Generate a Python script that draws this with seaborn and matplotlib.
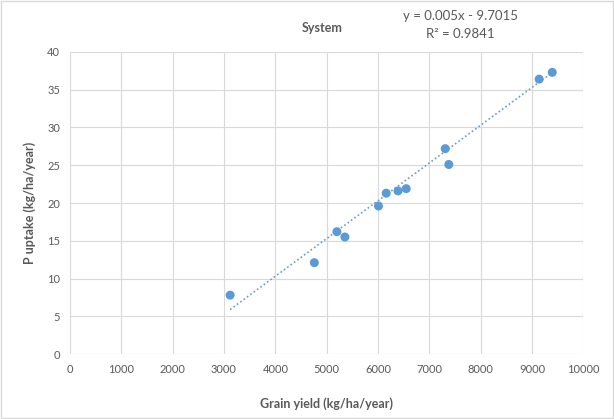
import numpy as np
import pandas as pd
import matplotlib.pyplot as plt
import seaborn as sns

# data
grain_yield = [3120, 4760, 5200, 5355, 6010, 6160, 6390, 6550, 7310, 7380, 9140, 9395]
p_uptake = [7.8, 12.1, 16.2, 15.5, 19.6, 21.3, 21.6, 21.9, 27.2, 25.1, 36.4, 37.3]
slope, intercept = 0.005, -9.7015
r2 = 0.9841

df = pd.DataFrame({"Grain yield": grain_yield, "P uptake": p_uptake})

sns.set_style("white")
plt.rcParams['font.family'] = ['Lato', 'DejaVu Sans']
grey = "#595959"

fig, ax = plt.subplots(figsize=(6.14, 4.19), dpi=100)
fig.subplots_adjust(left=0.114, right=0.95, top=0.876, bottom=0.155)

sns.scatterplot(data=df, x="Grain yield", y="P uptake", ax=ax, color="#5B9BD5",
                s=42, edgecolor="none", zorder=3)

# linear trendline (dotted)
xs = np.array([min(grain_yield), max(grain_yield)])
ax.plot(xs, slope * xs + intercept, linestyle=(0, (1, 1.5)), color="#6a9cc8", lw=1.2, zorder=2)

ax.set_xlim(0, 10000)
ax.set_ylim(0, 40)
ax.set_xticks(range(0, 10001, 1000))
ax.set_yticks(range(0, 41, 5))
ax.grid(True, color="#d9d9d9", lw=0.8)
ax.set_axisbelow(True)
for s in ax.spines.values():
    s.set_visible(False)
ax.tick_params(axis='both', length=0, labelsize=8, labelcolor=grey, pad=7)

ax.set_xlabel("Grain yield (kg/ha/year)", fontsize=9, fontweight='bold', color=grey, labelpad=16)
ax.set_ylabel("P uptake (kg/ha/year)", fontsize=9, fontweight='bold', color=grey, labelpad=8)

fig.text(0.524, 0.933, "System", fontsize=9, fontweight='bold', color=grey, ha='center', va='center')
fig.text(0.75, 0.962, f"y = {slope}x - {abs(intercept)}", fontsize=9.5, color=grey, ha='center', va='center')
fig.text(0.75, 0.918, f"R\u00b2 = {r2}", fontsize=9.5, color=grey, ha='center', va='center')

fig.patches.append(plt.Rectangle((0.002, 0.002), 0.996, 0.996, transform=fig.transFigure,
                                 fill=False, edgecolor="#d9d9d9", lw=1))

fig.savefig("out.png", dpi=100)
